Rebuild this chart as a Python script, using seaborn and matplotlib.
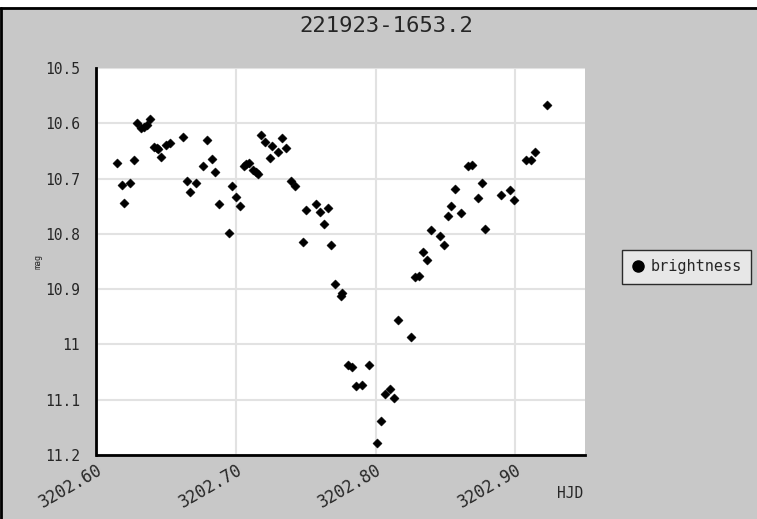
import matplotlib
matplotlib.use("Agg")
import matplotlib.pyplot as plt
import seaborn as sns
import pandas as pd
from matplotlib.ticker import MultipleLocator, FixedLocator
from matplotlib.lines import Line2D

title = "221923-1653.2"
series_name = "brightness"

hjd = [3202.615, 3202.618, 3202.620, 3202.624, 3202.627, 3202.629, 3202.632, 3202.634, 3202.636, 3202.638,
       3202.641, 3202.643, 3202.644, 3202.646, 3202.650, 3202.653, 3202.662, 3202.665, 3202.667, 3202.671,
       3202.676, 3202.679, 3202.683, 3202.685, 3202.688, 3202.695, 3202.697, 3202.700, 3202.703, 3202.706,
       3202.707, 3202.709, 3202.712, 3202.714, 3202.716, 3202.718, 3202.721, 3202.724, 3202.726, 3202.730,
       3202.733, 3202.736, 3202.739, 3202.742, 3202.748, 3202.750, 3202.757, 3202.760, 3202.763, 3202.766,
       3202.768, 3202.771, 3202.775, 3202.776, 3202.780, 3202.783, 3202.786, 3202.790, 3202.795, 3202.801,
       3202.804, 3202.807, 3202.810, 3202.813, 3202.816, 3202.825, 3202.828, 3202.831, 3202.834, 3202.837,
       3202.840, 3202.846, 3202.849, 3202.852, 3202.854, 3202.857, 3202.861, 3202.866, 3202.869, 3202.873,
       3202.876, 3202.878, 3202.890, 3202.896, 3202.899, 3202.908, 3202.911, 3202.914, 3202.923]
mag = [10.672, 10.711, 10.744, 10.708, 10.666, 10.599, 10.609, 10.606, 10.604, 10.592,
       10.642, 10.644, 10.647, 10.661, 10.639, 10.636, 10.625, 10.705, 10.725, 10.708,
       10.677, 10.631, 10.664, 10.689, 10.746, 10.799, 10.713, 10.733, 10.749, 10.677,
       10.674, 10.671, 10.684, 10.689, 10.692, 10.622, 10.633, 10.663, 10.641, 10.652,
       10.627, 10.644, 10.705, 10.713, 10.815, 10.757, 10.746, 10.760, 10.783, 10.754,
       10.821, 10.890, 10.912, 10.907, 11.037, 11.041, 11.075, 11.073, 11.037, 11.178,
       11.139, 11.090, 11.080, 11.097, 10.956, 10.987, 10.878, 10.876, 10.833, 10.847,
       10.793, 10.804, 10.821, 10.768, 10.749, 10.719, 10.763, 10.678, 10.675, 10.736,
       10.708, 10.791, 10.730, 10.721, 10.738, 10.666, 10.666, 10.652, 10.567]

x_ticks = [3202.60, 3202.70, 3202.80, 3202.90]
x_tick_labels = ["3202.60", "3202.70", "3202.80", "3202.90"]
y_ticks = [10.5, 10.6, 10.7, 10.8, 10.9, 11.0, 11.1, 11.2]
y_tick_labels = ["10.5", "10.6", "10.7", "10.8", "10.9", "11", "11.1", "11.2"]

df = pd.DataFrame({"HJD": hjd, "mag": mag})

sns.set_theme(style="white")
plt.rcParams["font.family"] = ["DejaVu Sans Mono", "DejaVu Sans"]

bg = "#c8c8c8"
fig = plt.figure(figsize=(7.57, 5.19), dpi=100, facecolor=bg)
ax = fig.add_axes([96.5 / 757, 1 - 455 / 519, (585 - 96.5) / 757, (455 - 68) / 519])
ax.set_facecolor("white")

sns.scatterplot(data=df, x="HJD", y="mag", ax=ax, marker="D", s=22, color="black",
                edgecolor="black", linewidth=0.3, legend=False, zorder=3)

ax.set_xlim(3202.60, 3202.95)
ax.set_ylim(11.2, 10.5)

ax.xaxis.set_major_locator(FixedLocator(x_ticks))
ax.set_xticklabels(x_tick_labels, rotation=30, ha="right", rotation_mode="anchor", fontsize=12)
ax.xaxis.set_minor_locator(MultipleLocator(0.01))
ax.yaxis.set_major_locator(FixedLocator(y_ticks))
ax.set_yticklabels(y_tick_labels, fontsize=10.5)
ax.yaxis.set_minor_locator(MultipleLocator(0.05))

ax.grid(True, which="major", color="#e2e2e2", linewidth=1.5, zorder=0)

ax.tick_params(axis="x", which="major", direction="out", length=8, width=1.2, color="black", pad=-4)
ax.tick_params(axis="x", which="minor", direction="out", length=5, width=1.0, color="black")
ax.tick_params(axis="y", which="major", direction="in", length=7, width=1.2, color="black", pad=12)
ax.tick_params(axis="y", which="minor", direction="in", length=7, width=1.0, color="black")

for s in ["top", "right"]:
    ax.spines[s].set_visible(False)
for s in ["left", "bottom"]:
    ax.spines[s].set_color("black")
    ax.spines[s].set_linewidth(2)

ax.set_xlabel("")
ax.set_ylabel("mag", fontsize=6, labelpad=2)
fig.text(570 / 757, 1 - 493 / 519, "HJD", fontsize=10.5, ha="center", va="center")

fig.text(386 / 757, 1 - 26 / 519, title, fontsize=16, ha="center", va="center")

handle = Line2D([], [], marker="o", linestyle="none", color="black", markersize=8)
leg = fig.legend([handle], [series_name], loc="center left", bbox_to_anchor=(614 / 757, 1 - 267 / 519),
                 frameon=True, fancybox=False, fontsize=11, handletextpad=0.3, borderpad=0.6,
                 handlelength=1.0)
leg.get_frame().set_edgecolor("black")
leg.get_frame().set_facecolor("#f0f0f0")
leg.get_frame().set_linewidth(1)

# top white strip and black frame lines (top and left)
fig.patches.append(plt.Rectangle((0, 1 - 7 / 519), 1, 7 / 519, transform=fig.transFigure,
                                 facecolor="white", edgecolor="none", zorder=10))
fig.lines.append(Line2D([0, 1], [1 - 7.5 / 519, 1 - 7.5 / 519], transform=fig.transFigure,
                        color="black", linewidth=2, zorder=11))
fig.lines.append(Line2D([1 / 757, 1 / 757], [0, 1 - 7.5 / 519], transform=fig.transFigure,
                        color="black", linewidth=2, zorder=11))

fig.savefig("out.png", dpi=100, facecolor=bg)
